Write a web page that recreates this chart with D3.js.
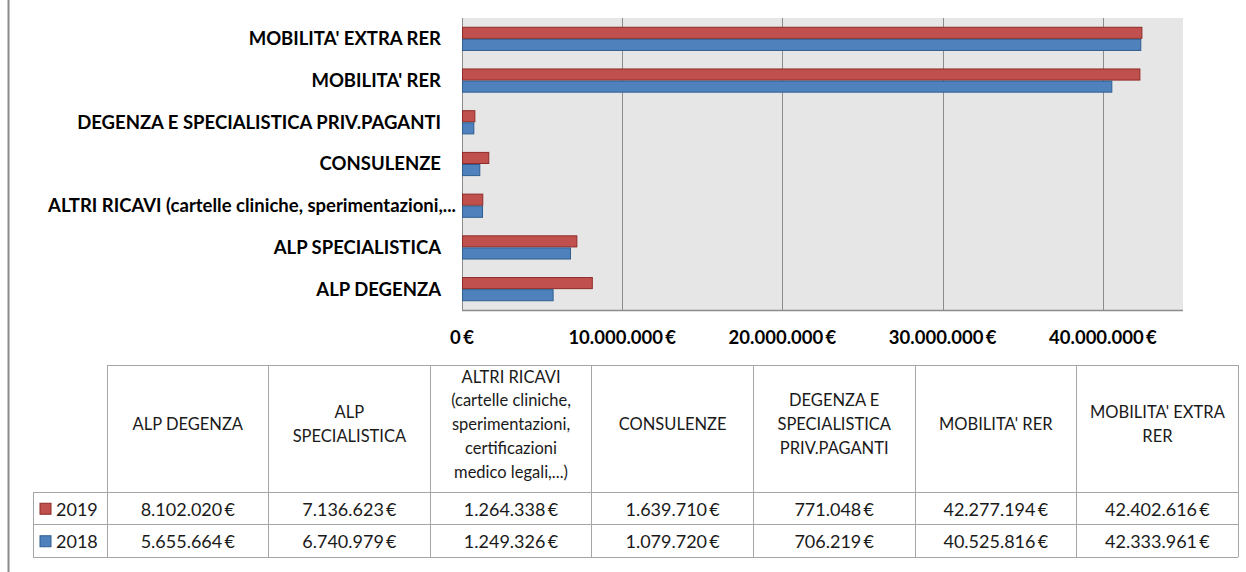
<!DOCTYPE html>
<html>
<head>
<meta charset="utf-8">
<script src="https://cdn.jsdelivr.net/npm/d3@7"></script>
<style>
  body { margin: 0; background: #fff; }
  svg text { font-family: Lato, "Open Sans", sans-serif; }
</style>
</head>
<body>
<div id="chart"></div>
<script>
"use strict";

// categories, bottom to top in the chart, left to right in the table
var categories = [
    "ALP DEGENZA",
    "ALP SPECIALISTICA",
    "ALTRI RICAVI (cartelle cliniche, sperimentazioni, certificazioni medico legali,...)",
    "CONSULENZE",
    "DEGENZA E SPECIALISTICA PRIV.PAGANTI",
    "MOBILITA' RER",
    "MOBILITA' EXTRA RER"
];
// axis labels as shown next to the bars
var axisLabels = [
    "ALP DEGENZA",
    "ALP SPECIALISTICA",
    "ALTRI RICAVI (cartelle cliniche, sperimentazioni,...",
    "CONSULENZE",
    "DEGENZA E SPECIALISTICA PRIV.PAGANTI",
    "MOBILITA' RER",
    "MOBILITA' EXTRA RER"
];
// header text of the data table, line by line
var headerLines = [
    ["ALP DEGENZA"],
    ["ALP", "SPECIALISTICA"],
    ["ALTRI RICAVI", "(cartelle cliniche,", "sperimentazioni,", "certificazioni", "medico legali,...)"],
    ["CONSULENZE"],
    ["DEGENZA E", "SPECIALISTICA", "PRIV.PAGANTI"],
    ["MOBILITA' RER"],
    ["MOBILITA' EXTRA", "RER"]
];
var seriesNames = ["2019", "2018"];
var values2019 = [8102020, 7136623, 1264338, 1639710, 771048, 42277194, 42402616];
var values2018 = [5655664, 6740979, 1249326, 1079720, 706219, 40525816, 42333961];
var ticks = [0, 10000000, 20000000, 30000000, 40000000];

var colors = { "2019": "#C0504D", "2018": "#4F81BD" };
var strokes = { "2019": "#8E2B28", "2018": "#2F5E8F" };

var W = 1246, H = 572;
var plot = { left: 462, right: 1183, top: 18, bottom: 310 };

var it = d3.formatLocale({ decimal: ",", thousands: ".", grouping: [3], currency: ["", "\u2009€"] });
var fmtMoney = it.format("$,.0f");

var svg = d3.select("#chart").append("svg")
    .attr("width", W)
    .attr("height", H);

// page frame line on the left
svg.append("line")
    .attr("x1", 8.5).attr("x2", 8.5)
    .attr("y1", 0).attr("y2", H)
    .attr("stroke", "#8a8a8a").attr("stroke-width", 2);

var x = d3.scaleLinear()
    .domain([0, 45000000])
    .range([plot.left, plot.right]);

var y = d3.scaleBand()
    .domain(categories)
    .range([plot.bottom, plot.top])
    .paddingInner(0.42)
    .paddingOuter(0.21);

var ySub = d3.scaleBand()
    .domain(seriesNames)
    .range([0, y.bandwidth()]);

// plot background
svg.append("rect")
    .attr("x", plot.left).attr("y", plot.top)
    .attr("width", plot.right - plot.left)
    .attr("height", plot.bottom - plot.top)
    .attr("fill", "#E6E6E6");

// gridlines
svg.append("g")
    .selectAll("line")
    .data(ticks.slice(1))
    .enter().append("line")
    .attr("x1", function (d) { return Math.round(x(d)) + 0.5; })
    .attr("x2", function (d) { return Math.round(x(d)) + 0.5; })
    .attr("y1", plot.top).attr("y2", plot.bottom)
    .attr("stroke", "#8C8C8C");

// axis lines
svg.append("line")
    .attr("x1", plot.left + 0.5).attr("x2", plot.left + 0.5)
    .attr("y1", plot.top).attr("y2", plot.bottom)
    .attr("stroke", "#8C8C8C");
svg.append("line")
    .attr("x1", plot.left).attr("x2", plot.right)
    .attr("y1", plot.bottom + 0.5).attr("y2", plot.bottom + 0.5)
    .attr("stroke", "#8C8C8C").attr("stroke-width", 1.5);

// bars
var rows = categories.map(function (c, i) {
    return { cat: c, vals: [
        { s: "2019", v: values2019[i] },
        { s: "2018", v: values2018[i] }
    ] };
});

var groups = svg.append("g")
    .selectAll("g")
    .data(rows)
    .enter().append("g")
    .attr("transform", function (d) { return "translate(0," + y(d.cat) + ")"; });

groups.selectAll("rect")
    .data(function (d) { return d.vals; })
    .enter().append("rect")
    .attr("x", x(0) + 0.5)
    .attr("y", function (d) { return ySub(d.s) + 0.5; })
    .attr("width", function (d) { return x(d.v) - x(0); })
    .attr("height", ySub.bandwidth() - 1)
    .attr("fill", function (d) { return colors[d.s]; })
    .attr("stroke", function (d) { return strokes[d.s]; })
    .attr("stroke-width", 1);

// category labels
svg.append("g")
    .selectAll("text")
    .data(categories)
    .enter().append("text")
    .attr("x", function (d, i) { return i === 2 ? 456 : 441; })
    .attr("y", function (d) { return y(d) + y.bandwidth() / 2; })
    .attr("dy", "0.35em")
    .attr("text-anchor", "end")
    .attr("font-size", 18.5)
    .attr("font-weight", "bold")
    .attr("fill", "#000")
    .text(function (d, i) { return axisLabels[i]; });

// x tick labels
svg.append("g")
    .selectAll("text")
    .data(ticks)
    .enter().append("text")
    .attr("x", function (d) { return x(d); })
    .attr("y", 344)
    .attr("text-anchor", "middle")
    .attr("font-size", 18.5)
    .attr("font-weight", "bold")
    .text(function (d) { return fmtMoney(d); });

// data table
var table = { left: 107, colW: 161.6, top: 365, headH: 127, rowH: 32.5, legendLeft: 33 };
var tx = d3.scaleBand()
    .domain(categories)
    .range([table.left, table.left + table.colW * categories.length]);
var tRight = table.left + table.colW * categories.length;
var tBottom = table.top + table.headH + 2 * table.rowH;
var gridColor = "#A6A6A6";

var tg = svg.append("g").attr("shape-rendering", "crispEdges");
// horizontal lines
tg.append("line").attr("x1", table.left).attr("x2", tRight)
    .attr("y1", table.top).attr("y2", table.top).attr("stroke", gridColor);
[table.top + table.headH, table.top + table.headH + table.rowH, tBottom].forEach(function (yy) {
    tg.append("line").attr("x1", table.legendLeft).attr("x2", tRight)
        .attr("y1", yy).attr("y2", yy).attr("stroke", gridColor);
});
// vertical lines
tg.append("line").attr("x1", table.legendLeft).attr("x2", table.legendLeft)
    .attr("y1", table.top + table.headH).attr("y2", tBottom).attr("stroke", gridColor);
categories.concat([null]).forEach(function (c, i) {
    var xx = c ? tx(c) : tRight;
    tg.append("line").attr("x1", xx).attr("x2", xx)
        .attr("y1", table.top).attr("y2", tBottom).attr("stroke", gridColor);
});

// header text
var lineH = 23.8;
var head = svg.append("g")
    .selectAll("text")
    .data(headerLines)
    .enter().append("text")
    .attr("text-anchor", "middle")
    .attr("font-size", 16.5)
    .attr("fill", "#1a1a1a")
    .attr("transform", function (d, i) {
        var cy = table.top + table.headH / 2 - 4 - (d.length - 1) * lineH / 2;
        return "translate(" + (tx(categories[i]) + tx.bandwidth() / 2) + "," + cy + ")";
    });
head.selectAll("tspan")
    .data(function (d) { return d; })
    .enter().append("tspan")
    .attr("x", 0)
    .attr("y", function (d, i) { return i * lineH; })
    .attr("dy", "0.35em")
    .text(function (d) { return d; });

// value rows with legend keys
[values2019, values2018].forEach(function (vals, r) {
    var s = seriesNames[r];
    var cy = table.top + table.headH + r * table.rowH + table.rowH / 2 + 1;
    svg.append("rect")
        .attr("x", 40).attr("y", cy - 6)
        .attr("width", 11).attr("height", 11)
        .attr("fill", colors[s])
        .attr("stroke", strokes[s]);
    svg.append("text")
        .attr("x", 56).attr("y", cy)
        .attr("dy", "0.35em")
        .attr("font-size", 18)
        .attr("fill", "#1a1a1a")
        .text(s);
    svg.append("g")
        .selectAll("text")
        .data(vals)
        .enter().append("text")
        .attr("x", function (d, i) { return tx(categories[i]) + tx.bandwidth() / 2; })
        .attr("y", cy)
        .attr("dy", "0.35em")
        .attr("text-anchor", "middle")
        .attr("font-size", 18)
        .attr("fill", "#1a1a1a")
        .text(function (d) { return fmtMoney(d); });
});
</script>
</body>
</html>
